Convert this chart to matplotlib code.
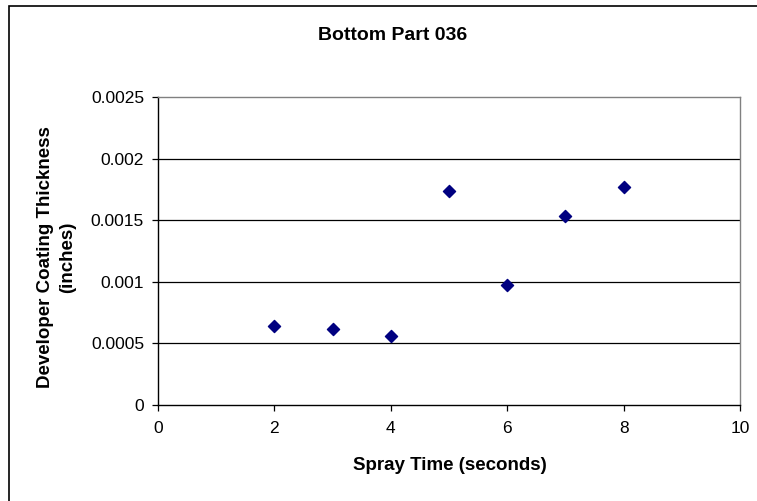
import matplotlib.pyplot as plt
from matplotlib.patches import Rectangle

# spray time (s) vs developer coating thickness (in), bottom part 036
spray_time = [2, 3, 4, 5, 6, 7, 8]
thickness = [0.000643, 0.000616, 0.000559, 0.001741, 0.000971, 0.001535, 0.001768]
x_ticks = [0, 2, 4, 6, 8, 10]
y_ticks = [0, 0.0005, 0.001, 0.0015, 0.002, 0.0025]
y_tick_labels = ['0', '0.0005', '0.001', '0.0015', '0.002', '0.0025']

plt.rcParams['font.family'] = ['Liberation Sans', 'DejaVu Sans']

W, H = 757, 501
fig = plt.figure(figsize=(W / 100, H / 100), dpi=100)
ax = fig.add_axes([158 / W, 1 - 405 / H, (740 - 158) / W, (405 - 97) / H])

# chart outer frame (runs off the bottom and right edges)
fig.patches.append(Rectangle((9 / W, -0.1), 1.2, 1.1 - 6 / H, transform=fig.transFigure,
                             fill=False, edgecolor='black', linewidth=1.2, clip_on=False))

for yv in y_ticks[1:-1]:
    ax.axhline(yv, color='black', linewidth=0.9, zorder=1)

ax.scatter(spray_time, thickness, marker='D', s=38, color='#000080', zorder=3)

ax.set_xlim(0, 10)
ax.set_ylim(0, 0.0025)
ax.set_xticks(x_ticks)
ax.set_yticks(y_ticks)
ax.set_yticklabels(y_tick_labels)
ax.tick_params(direction='out', length=4, width=0.9, labelsize=12.5, colors='black')
ax.tick_params(axis='x', pad=7.5)
ax.tick_params(axis='y', pad=6)

ax.spines['left'].set_color('black')
ax.spines['bottom'].set_color('black')
ax.spines['top'].set_color('#808080')
ax.spines['right'].set_color('#808080')
for s in ax.spines.values():
    s.set_linewidth(1.0)

fig.text(393 / W, 1 - 35 / H, 'Bottom Part 036', ha='center', va='center',
         fontsize=14, fontweight='bold')
fig.text(450 / W, 1 - 466 / H, 'Spray Time (seconds)', ha='center', va='center',
         fontsize=13.5, fontweight='bold')
fig.text(57 / W, 1 - 257 / H, 'Developer Coating Thickness\n(inches)', ha='center', va='center',
         rotation=90, fontsize=13.5, fontweight='bold', linespacing=1.4)

fig.savefig('out.png', dpi=100)
